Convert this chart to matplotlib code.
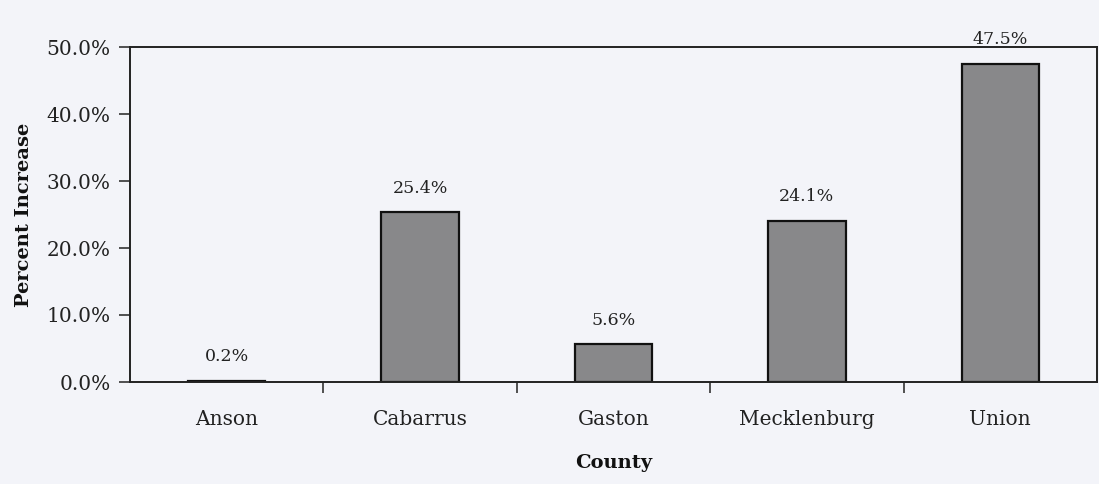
import matplotlib
matplotlib.use("Agg")
import matplotlib.pyplot as plt
from matplotlib.ticker import FuncFormatter

counties = ["Anson", "Cabarrus", "Gaston", "Mecklenburg", "Union"]
increase = [0.2, 25.4, 5.6, 24.1, 47.5]
value_labels = ["0.2%", "25.4%", "5.6%", "24.1%", "47.5%"]
y_ticks = [0, 10, 20, 30, 40, 50]

bg = "#f3f4f9"
plt.rcParams["font.family"] = ["DejaVu Serif"]

fig = plt.figure(figsize=(10.99, 4.84), dpi=100, facecolor=bg)
ax = fig.add_axes([130/1099, 1 - 382/484, 967/1099, 335/484])
ax.set_facecolor(bg)

x = list(range(len(counties)))
ax.bar(x, increase, width=0.40, color="#88888a", edgecolor="#111111", linewidth=1.6)

for xi, v, lab in zip(x, increase, value_labels):
    ax.annotate(lab, (xi, v), xytext=(0, 11), textcoords="offset points",
                ha="center", va="bottom", fontsize=12.5, color="#222222")

ax.set_xlim(-0.5, len(counties) - 0.5)
ax.set_ylim(0, 50)
ax.set_yticks(y_ticks)
ax.yaxis.set_major_formatter(FuncFormatter(lambda v, p: f"{v:.1f}%"))
ax.set_xticks([i + 0.5 for i in range(len(counties) - 1)], minor=False)
ax.set_xticklabels([])
ax.set_xticks(x, minor=True)
ax.set_xticklabels(counties, minor=True)
ax.tick_params(axis="x", which="minor", length=0, pad=20, labelsize=14.5, labelcolor="#222222")
ax.tick_params(axis="x", which="major", direction="out", length=8, width=1.2, color="#333333")
ax.tick_params(axis="y", direction="out", length=8, width=1.2, color="#333333",
               labelsize=14.5, labelcolor="#222222", pad=6)

for s in ax.spines.values():
    s.set_linewidth(1.4)
    s.set_color("#222222")

ax.set_ylabel("Percent Increase", fontsize=14, fontweight="bold", color="#111111", labelpad=10)
ax.set_xlabel("County", fontsize=14, fontweight="bold", color="#111111", labelpad=18)

fig.savefig("out.png", dpi=100, facecolor=bg)
